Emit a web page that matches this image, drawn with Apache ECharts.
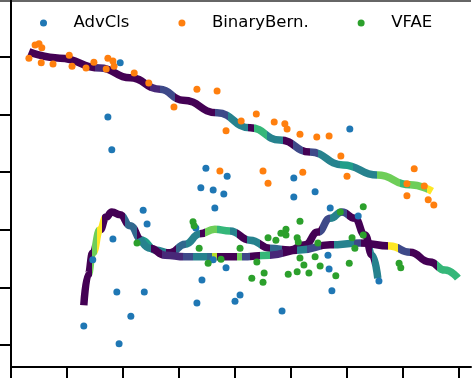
<!DOCTYPE html>
<html>
<head>
<meta charset="utf-8">
<script src="https://cdn.jsdelivr.net/npm/echarts@6/dist/echarts.min.js"></script>
<style>
html,body{margin:0;padding:0;background:#fff;}
#c{width:474px;height:379px;}
</style>
</head>
<body>
<div id="c"></div>
<script>
// ---- data ----
const seriesNames = ['AdvCls', 'BinaryBern.', 'VFAE'];
const xTicks = [0, 1, 2, 3, 4, 5, 6, 7, 8];
const yTicks = [1, 2, 3, 4, 5, 6];

const advCls = [
  [1.95,5.90],[1.73,4.96],[1.80,4.39],[2.36,3.34],[2.43,3.10],[1.82,2.84],
  [3.48,4.07],[3.86,3.93],[3.39,3.73],[3.61,3.69],[3.80,3.62],[3.64,3.38],
  [5.05,3.90],[5.05,3.57],[5.43,3.66],[3.30,3.03],[6.05,4.75],[5.70,3.38],
  [6.20,3.24],[1.89,1.92],[2.38,1.92],[2.14,1.50],[1.30,1.33],[1.93,1.02],
  [3.84,2.34],[3.41,2.13],[3.32,1.73],[4.09,1.87],[4.00,1.76],[4.84,1.59],
  [3.61,2.48],[5.66,2.56],[5.68,2.32],[5.73,1.94],[6.57,2.11],[1.46,2.48]
];
const binaryBern = [
  [0.43,6.21],[0.50,6.23],[0.55,6.16],[0.32,5.98],[0.54,5.90],[0.75,5.88],
  [1.04,6.03],[1.09,5.84],[1.34,5.81],[1.48,5.91],[1.73,5.98],[1.82,5.93],
  [1.84,5.84],[1.70,5.79],[2.20,5.72],[2.46,5.55],[3.32,5.44],[3.68,5.41],
  [2.91,5.13],[4.11,4.89],[4.38,5.01],[4.70,4.87],[4.89,4.84],[4.93,4.75],
  [3.84,4.72],[5.16,4.66],[5.46,4.61],[5.68,4.63],[3.73,4.02],[4.50,4.02],
  [4.59,3.81],[5.21,4.00],[5.89,4.28],[6.00,3.93],[7.20,4.06],[7.07,3.80],
  [7.38,3.76],[7.07,3.59],[7.45,3.52],[7.55,3.43]
];
const vfae = [
  [2.25,2.77],[3.25,3.14],[3.27,3.07],[5.16,3.15],[4.91,3.01],[4.82,2.94],
  [4.91,2.91],[4.59,2.86],[4.73,2.82],[5.11,2.86],[5.13,2.79],[3.36,2.68],
  [4.09,2.68],[5.88,3.31],[6.29,3.40],[6.29,2.91],[6.09,2.86],[5.48,2.77],
  [6.14,2.68],[3.52,2.42],[3.75,2.49],[4.39,2.44],[4.30,2.16],[4.52,2.25],
  [4.50,2.09],[4.95,2.23],[5.11,2.27],[5.16,2.51],[5.23,2.39],[5.32,2.25],
  [5.43,2.53],[5.52,2.37],[5.80,2.20],[6.04,2.42],[6.93,2.42],[6.96,2.34]
];

const curveA = [
  [0.32,6.09],[0.875,5.98],[1.59,5.81],[2.125,5.64],[2.66,5.44],[3.07,5.25],
  [3.68,5.03],[4.27,4.77],[4.80,4.56],[5.34,4.35],[5.93,4.125],[6.54,3.95],
  [7.125,3.78],[7.52,3.67]
];
const curveB = [
  [1.30,1.69],[1.375,2.215],[1.46,2.60],[1.59,3.00],[1.70,3.22],[1.80,3.31],
  [1.95,3.26],[2.125,3.07],[2.34,2.82],[2.57,2.65],[2.84,2.60],[3.11,2.75],
  [3.375,2.93],[3.64,3.01],[3.91,2.98],[4.27,2.82],[4.625,2.68],[4.98,2.65],
  [5.25,2.74],[5.48,2.96],[5.70,3.20],[5.91,3.31],[6.14,3.20],[6.32,2.91],
  [6.45,2.56],[6.55,2.16]
];
const curveC = [
  [2.30,2.86],[2.48,2.68],[2.75,2.56],[3.11,2.53],[3.55,2.53],[4.09,2.53],
  [4.625,2.56],[5.16,2.65],[5.70,2.74],[6.23,2.77],[6.77,2.72],[7.125,2.61],
  [7.48,2.44],[7.75,2.30],[7.98,2.16]
];

// ---- styles ----
const V = ['#440154','#482878','#3e4989','#31688e','#26828e','#1f9e89','#35b779','#6ece58','#b5de2b','#fde725'];
// [xStart, xEnd, viridis index]
const segA = [
  [0,1.5,0],[1.5,1.68,1],[1.68,2.48,0],[2.48,2.66,1],[2.66,2.93,2],[2.93,3.64,0],
  [3.64,3.875,2],[3.875,4.23,4],[4.23,4.34,0],[4.34,4.57,6],[4.57,4.86,4],[4.86,5.04,0],
  [5.04,5.21,2],[5.21,5.34,0],[5.34,5.48,2],[5.48,5.875,4],[5.875,6.11,5],[6.11,6.54,4],
  [6.54,6.95,7],[6.95,7.125,6],[7.125,7.43,7],[7.43,9,9]
];
const segB = [
  [0,1.45,0],[1.45,1.53,7],[1.53,1.62,9],[1.62,2.04,0],[2.04,2.25,3],[2.25,2.36,0],
  [2.36,2.54,5],[2.54,2.77,4],[2.77,2.95,0],[2.95,3.13,3],[3.13,3.38,4],[3.38,3.46,0],
  [3.46,3.68,7],[3.68,3.91,6],[3.91,4.04,4],[4.04,4.21,0],[4.21,4.45,4],[4.45,4.63,0],
  [4.63,4.84,3],[4.84,5.52,0],[5.52,5.70,2],[5.70,5.88,4],[5.88,6.0,2],[6.0,6.45,0],
  [6.45,9,4]
];
const segC = [
  [0,2.5,4],[2.5,2.7,0],[2.7,3.07,1],[3.07,3.25,2],[3.25,3.5,4],[3.5,3.59,3],
  [3.59,3.68,8],[3.68,4.04,0],[4.04,4.13,7],[4.13,4.27,2],[4.27,4.45,0],[4.45,4.63,6],
  [4.63,4.86,1],[4.86,5.11,0],[5.11,5.29,4],[5.29,5.54,2],[5.54,5.77,0],[5.77,6.13,4],
  [6.13,6.25,2],[6.25,6.73,0],[6.73,6.91,9],[6.91,7.13,2],[7.13,7.61,0],[7.61,9,6]
];
function pieces(seg){ return seg.map(s => ({gte: s[0], lt: s[1], color: V[s[2]]})); }

const FONT = 'DejaVu Sans';
const chart = echarts.init(document.getElementById('c'), null, {renderer: 'canvas'});
const lineW = 7.5;
function curveSeries(data){
  return {type:'line', data: data, smooth: 0.5, smoothMonotone: 'x', showSymbol: false, symbol:'none',
    lineStyle:{width: lineW, cap:'butt'}, z: 2, silent: true, animation: false};
}
function scatterSeries(name, data, color){
  return {type:'scatter', name: name, data: data, symbolSize: 7, itemStyle:{color: color, opacity: 1},
    z: 3, animation: false};
}
chart.setOption({
  animation: false,
  backgroundColor: '#fff',
  grid: {left: 11, right: 3, top: 1, bottom: 12, containLabel: false},
  legend: {
    data: seriesNames, left: 40, top: 13, padding: 0, itemGap: 49,
    itemWidth: 50, itemHeight: 7, icon: 'circle',
    textStyle: {fontFamily: FONT, fontSize: 16.5, color: '#000', lineHeight: 20}
  },
  xAxis: [{
    type: 'value', min: 0, max: 8.214,
    axisLine: {show: true, onZero: false, lineStyle: {color: '#000', width: 2}},
    axisTick: {show: true, customValues: xTicks, length: 11, lineStyle: {color: '#000', width: 2}},
    axisLabel: {show: false}, splitLine: {show: false}
  }],
  yAxis: [{
    type: 'value', min: 0.618, max: 6.972,
    axisLine: {show: true, onZero: false, lineStyle: {color: '#000', width: 2}},
    axisTick: {show: true, customValues: yTicks, length: 11, lineStyle: {color: '#000', width: 2}},
    axisLabel: {show: false}, splitLine: {show: false}
  }, {
    type: 'value', position: 'right', min: 0.618, max: 6.972,
    axisLine: {show: true, lineStyle: {color: '#000', width: 2}},
    axisTick: {show: false}, axisLabel: {show: false}, splitLine: {show: false}
  }],
  visualMap: [
    {type:'piecewise', show:false, seriesIndex: 0, dimension: 0, pieces: pieces(segA)},
    {type:'piecewise', show:false, seriesIndex: 1, dimension: 0, pieces: pieces(segB)},
    {type:'piecewise', show:false, seriesIndex: 2, dimension: 0, pieces: pieces(segC)}
  ],
  graphic: [{type:'rect', left: 0, top: 0, shape:{width: 471, height: 2}, style:{fill:'#666'}, silent: true}],
  series: [
    curveSeries(curveA),
    curveSeries(curveB),
    curveSeries(curveC),
    scatterSeries(seriesNames[0], advCls, '#1f77b4'),
    scatterSeries(seriesNames[1], binaryBern, '#ff7f0e'),
    scatterSeries(seriesNames[2], vfae, '#2ca02c')
  ]
});
</script>
</body>
</html>
